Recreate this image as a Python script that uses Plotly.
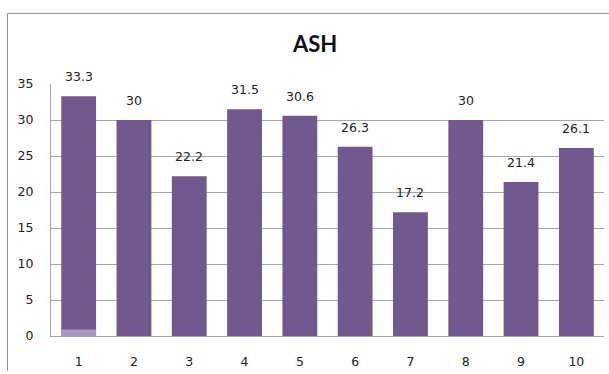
import plotly.graph_objects as go

categories = ["1", "2", "3", "4", "5", "6", "7", "8", "9", "10"]
values = [33.3, 30, 22.2, 31.5, 30.6, 26.3, 17.2, 30, 21.4, 26.1]
highlight = [0.9, 0, 0, 0, 0, 0, 0, 0, 0, 0]
labels = ["33.3", "30", "22.2", "31.5", "30.6", "26.3", "17.2", "30", "21.4", "26.1"]
y_ticks = [0, 5, 10, 15, 20, 25, 30, 35]

DARK = "#71588f"
LIGHT = "#a899c2"
GRID = "#a6a6a6"
FONT = "DejaVu Sans"

W, H = 609, 374
ML, MR, MT, MB = 51, 5, 84, 35
PW, PH = W - ML - MR, H - MT - MB

fig = go.Figure()
fig.add_trace(go.Bar(x=categories, y=values, marker=dict(color=DARK, line=dict(width=0)),
                     hoverinfo="skip"))
fig.add_trace(go.Bar(x=categories, y=highlight, marker=dict(color=LIGHT, line=dict(width=0)),
                     hoverinfo="skip"))

# data labels (category axis: position by category index)
for i, (v, t) in enumerate(zip(values, labels)):
    fig.add_annotation(x=i, y=v, text=t, showarrow=False, yanchor="bottom",
                       yshift=10, font=dict(family=FONT, size=12.5, color="#222222"))

fig.add_annotation(xref="paper", yref="paper", x=0.476, y=1.0, yshift=25, yanchor="bottom",
                   text="<b>ASH</b>", showarrow=False,
                   font=dict(family="Lato", size=22, color="#111111"))

# outer chart frame (top and left edges visible), kept inside the page
fx0 = (7.5 - ML) / PW
fx1 = (W - ML) / PW
fy1 = 1 + (MT - 12.5) / PH
fy0 = -MB / PH
fig.add_shape(type="line", xref="paper", yref="paper", x0=fx0, x1=fx1, y0=fy1, y1=fy1,
              line=dict(color="#8c8c8c", width=1), layer="above")
fig.add_shape(type="line", xref="paper", yref="paper", x0=fx0, x1=fx0, y0=fy0, y1=fy1,
              line=dict(color="#8c8c8c", width=1), layer="above")

fig.update_layout(
    width=W, height=H,
    margin=dict(l=ML, r=MR, t=MT, b=MB, pad=0),
    barmode="overlay", bargap=0.37,
    showlegend=False,
    plot_bgcolor="white", paper_bgcolor="white",
    font=dict(family=FONT, size=12.5, color="#222222"),
    xaxis=dict(type="category", range=[-0.5, 9.5], showgrid=False, showline=True,
               linecolor=GRID, linewidth=1, mirror=False, zeroline=False,
               ticks="", ticklabelstandoff=14, tickfont=dict(size=12.5)),
    yaxis=dict(range=[0, 35], tickvals=y_ticks, showgrid=True, gridcolor=GRID, gridwidth=1,
               showline=True, linecolor=GRID, linewidth=1, zeroline=False, mirror=False,
               ticks="", ticklabelstandoff=14, tickfont=dict(size=12.5)),
)

fig.write_html("out.html", config={"displayModeBar": False})
